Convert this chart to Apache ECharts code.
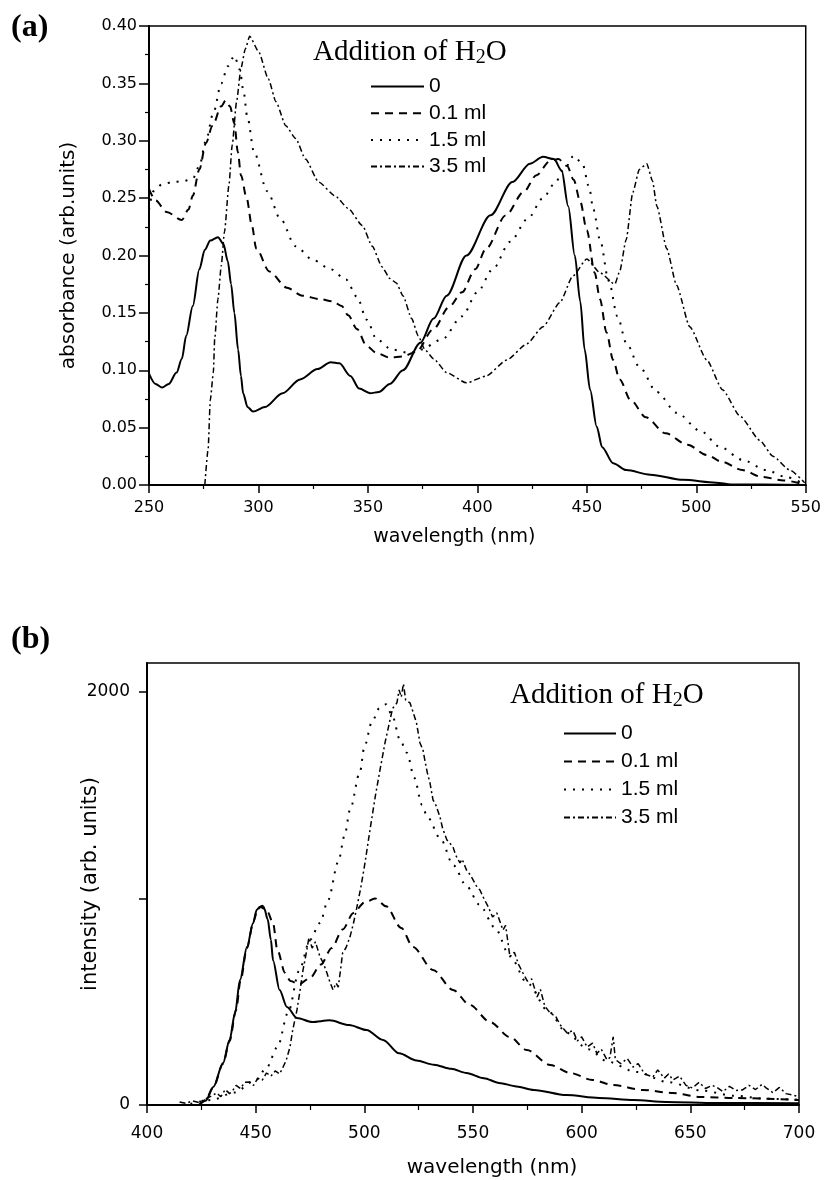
<!DOCTYPE html>
<html>
<head>
<meta charset="utf-8">
<script src="https://cdn.jsdelivr.net/npm/echarts@6/dist/echarts.min.js"></script>
<style>html,body{margin:0;padding:0;background:#fff}#c{width:824px;height:1180px}</style>
</head>
<body>
<div id="c"></div>
<script>
// ---------- DATA ----------
const seriesNames = ['0', '0.1 ml', '1.5 ml', '3.5 ml'];

// (a) absorbance vs wavelength (nm)
const abs0 = [[250,0.097],[253,0.088],[256,0.085],[259,0.088],[262.6,0.098],[265,0.11],[267,0.13],[270,0.156],[273,0.188],[275.5,0.205],[278,0.213],[281.5,0.216],[284,0.21],[286,0.195],[287.5,0.175],[289,0.15],[290.7,0.118],[292,0.095],[293,0.08],[295,0.068],[297.5,0.064],[303,0.068],[311,0.08],[319,0.092],[327,0.101],[333,0.107],[337,0.106],[342,0.095],[346,0.084],[351,0.08],[355,0.081],[360,0.088],[366,0.1],[374,0.124],[380,0.145],[386,0.165],[395,0.2],[406,0.235],[416,0.264],[424,0.28],[430,0.286],[435,0.284],[438.5,0.274],[441.5,0.243],[444.5,0.2],[447,0.16],[449,0.118],[451.5,0.083],[454.5,0.051],[457,0.033],[462,0.019],[468,0.013],[479,0.009],[494,0.0045],[509,0.002],[516,0.0005],[550,0]];
const abs01 = [[250,0.258],[253,0.248],[258,0.238],[265,0.231],[268,0.24],[270,0.252],[273,0.275],[276,0.298],[279,0.313],[283,0.33],[285,0.335],[287,0.33],[289,0.315],[290.6,0.29],[292,0.27],[294.6,0.25],[297,0.226],[299,0.206],[305,0.186],[313,0.172],[320,0.165],[328,0.162],[334,0.16],[338,0.156],[341,0.148],[345,0.136],[349.5,0.121],[354,0.115],[360,0.111],[366,0.112],[372,0.116],[380,0.136],[387,0.155],[393,0.168],[399,0.188],[404,0.206],[413,0.235],[421,0.255],[427,0.27],[433,0.282],[437,0.284],[441,0.278],[444,0.266],[447,0.247],[450,0.222],[453.6,0.185],[456,0.162],[459,0.133],[462,0.109],[465,0.092],[470,0.074],[477,0.059],[486,0.045],[496,0.035],[505,0.026],[512,0.02],[521,0.013],[530,0.007],[540,0.004],[550,0]];
const abs15 = [[250,0.24],[252,0.256],[256,0.262],[261,0.264],[266,0.265],[270,0.267],[273,0.278],[276,0.3],[279.5,0.325],[283,0.35],[286,0.365],[289,0.374],[291.5,0.362],[293,0.345],[295,0.32],[298,0.29],[304,0.256],[310,0.232],[317,0.208],[325,0.196],[333,0.188],[340,0.179],[345,0.164],[349.5,0.144],[354,0.127],[361,0.118],[369,0.115],[374,0.118],[384,0.127],[393,0.147],[400,0.168],[407,0.188],[415,0.212],[423,0.232],[430,0.25],[435,0.262],[440,0.276],[444,0.287],[448,0.28],[451,0.26],[453,0.24],[456,0.214],[460,0.178],[464,0.147],[468,0.124],[474,0.103],[482,0.081],[491,0.063],[502,0.047],[511,0.033],[521,0.022],[532,0.013],[541,0.007],[550,0]];
const abs35 = [[275.5,0],[277,0.031],[278,0.074],[279.4,0.098],[280,0.127],[281.5,0.162],[283,0.191],[284.5,0.221],[286.5,0.261],[288,0.296],[290,0.334],[292,0.363],[294,0.38],[296,0.391],[300,0.378],[304.5,0.354],[308,0.334],[312.5,0.313],[317,0.302],[321.5,0.284],[327.5,0.264],[335,0.252],[341,0.241],[347.5,0.226],[352,0.208],[356.5,0.19],[360,0.18],[363,0.176],[366,0.165],[370,0.145],[373,0.13],[376,0.118],[380,0.11],[386,0.098],[395,0.089],[404,0.095],[413.5,0.109],[422.6,0.123],[430,0.138],[437.7,0.159],[443.6,0.182],[450,0.197],[456,0.185],[462.8,0.175],[465,0.186],[468,0.214],[471,0.255],[474,0.275],[477.4,0.28],[480,0.265],[482,0.243],[486.5,0.206],[491,0.174],[497,0.138],[504.8,0.109],[512,0.083],[520,0.06],[529,0.039],[535,0.025],[542.7,0.013],[549.5,0.002]];

// (b) PL intensity vs wavelength (nm)
const pl0 = [[424,0],[427,20],[430.5,87],[435,203],[438,315],[440.5,445],[442.8,605],[446,765],[448.8,880],[450.5,945],[452,960],[454,950],[455.5,900],[457,800],[458,700],[461,557],[464.4,475],[469,421],[476,402],[484,410],[493,387],[501,363],[508.6,315],[516,250],[524,215],[532,195],[540,175],[547,155],[555,130],[562,107],[570,90],[578,73],[593,48],[608,34],[624,24],[639,15],[662,10],[700,8]];
const pl01 = [[424,0],[427,25],[430.5,85],[435,200],[438,310],[441,460],[443,600],[446,760],[449,890],[451,950],[453,965],[455.5,935],[458,880],[460,750],[463.5,640],[466,600],[470,585],[475,615],[480,680],[485,760],[490,850],[495,930],[500,980],[505,1000],[510,962],[517,857],[522.4,765],[531.6,654],[540.8,557],[548.6,484],[557.8,402],[567,329],[574.8,266],[585.5,194],[594.7,155],[605,121],[614.5,97],[628,73],[642,58],[654.5,39],[670,34],[700,24]];
const pl15 = [[420,5],[430,25],[440,60],[450,120],[455,180],[460,280],[465,450],[470,650],[475,800],[479.6,881],[483.3,992],[488,1177],[491,1308],[493.4,1429],[498,1613],[500,1734],[503.5,1855],[507,1923],[510,1940],[513,1880],[516.4,1768],[519.6,1705],[523,1584],[526.5,1453],[529,1395],[535,1290],[541,1160],[547,1060],[553,970],[560,860],[567,720],[575,590],[585,450],[593,350],[603,270],[612,210],[625,160],[640,110],[655,70],[670,45],[685,30],[700,25]];
const pl35 = [[415,15],[418,8],[421,20],[424,12],[427,30],[430,45],[432,58],[434,40],[436,75],[438,55],[439.6,73],[441,95],[443,80],[445,110],[447.4,111],[449,95],[451,130],[453,120],[455,155],[457,140],[459,165],[461,150],[462,170],[464,215],[465.8,281],[467,360],[469,460],[470.5,560],[471.8,654],[473,720],[474.5,810],[476,760],[477.5,790],[479.6,717],[481,690],[482.8,639],[484,600],[485.6,557],[487,590],[488,571],[489,650],[490,736],[491.5,760],[493.4,814],[495,880],[496.6,959],[498.5,1060],[500.3,1172],[502.6,1332],[505,1492],[507.2,1622],[509.5,1753],[511.8,1864],[513,1920],[515,1947],[516,2010],[517,1975],[518,2040],[519,1960],[521,1947],[522.5,1900],[524,1850],[525.6,1753],[527,1719],[528,1660],[529,1608],[530.2,1560],[531.6,1477],[533,1450],[534.8,1395],[536,1340],[538,1283],[540.8,1250],[542,1210],[544,1172],[545,1190],[547,1138],[549,1110],[551.8,1056],[553.2,1041],[555,1000],[557,960],[559,910],[561,930],[563.8,847],[565,870],[567,717],[569,740],[571,680],[573,639],[575,600],[577,610],[579.5,523],[581,560],[583,480],[585.5,445],[588,430],[590,390],[593.3,349],[596,360],[598,310],[600,330],[602.5,281],[605,300],[607,250],[609,270],[611.7,218],[613,230],[614.5,330],[615.5,220],[618,200],[621,225],[623.6,184],[626,200],[629,150],[632.8,136],[635,170],[638,130],[640,150],[642,121],[645,140],[648,95],[651,82],[654,110],[657,80],[660,95],[662,87],[665,65],[668,90],[671,70],[674,73],[677,95],[680,75],[683,100],[685,82],[688,60],[691,85],[694,55],[697,48],[700,40]];

const absTicks = [0, 0.05, 0.10, 0.15, 0.20, 0.25, 0.30, 0.35, 0.40];
const plYLabels = [0, 2000];
const plYTicks = [0, 1000, 2000];

// ---------- CHART ----------
const chart = echarts.init(document.getElementById('c'), null, {renderer: 'canvas'});
const styles = [
  {type: 'solid', width: 2},
  {type: [8, 6], width: 2},
  {type: [2, 7], width: 2},
  {type: [6, 3, 2, 3], width: 1.5}
];
const tickFont = {fontFamily: 'DejaVu Sans', color: '#000'};
const axisLineStyle = {show: true, lineStyle: {color: '#000', width: 2}};

function mk(name, data, i, axisIdx, smooth) {
  return {
    name: name, type: 'line', data: data, xAxisIndex: axisIdx, yAxisIndex: axisIdx,
    symbol: 'none', smooth: smooth, smoothMonotone: 'x',
    lineStyle: Object.assign({color: '#000'}, styles[i]),
    itemStyle: {color: '#000'}, animation: false, z: 3
  };
}

const legendBase = {
  orient: 'vertical', itemHeight: 14, selectedMode: false,
  itemStyle: {opacity: 0},
  textStyle: {fontFamily: 'Liberation Sans', fontSize: 21, color: '#000', lineHeight: 20}
};

const option = {
  animation: false,
  backgroundColor: '#fff',
  grid: [
    {left: 149, top: 26, width: 657, height: 459, show: true, borderColor: '#000', borderWidth: 1.5, backgroundColor: 'transparent'},
    {left: 147, top: 663, width: 652, height: 442, show: true, borderColor: '#000', borderWidth: 1.5, backgroundColor: 'transparent'}
  ],
  xAxis: [
    {gridIndex: 0, type: 'value', min: 250, max: 550, interval: 50,
     name: 'wavelength (nm)', nameLocation: 'middle', nameGap: 43, nameMoveOverlap: false,
     nameTextStyle: {fontFamily: 'DejaVu Sans', fontSize: 19, color: '#000', padding: [0, 46, 0, 0]},
     axisLine: axisLineStyle,
     axisTick: {show: true, inside: false, length: 8, lineStyle: {color: '#000', width: 1.5}},
     minorTick: {show: true, splitNumber: 2, length: 4, lineStyle: {color: '#000', width: 1.2}},
     splitLine: {show: false},
     axisLabel: Object.assign({fontSize: 16, margin: 15}, tickFont)},
    {gridIndex: 1, type: 'value', min: 400, max: 700, interval: 50,
     name: 'wavelength (nm)', nameLocation: 'middle', nameGap: 53, nameMoveOverlap: false,
     nameTextStyle: {fontFamily: 'DejaVu Sans', fontSize: 20, color: '#000', padding: [0, 0, 0, 38]},
     axisLine: axisLineStyle,
     axisTick: {show: true, inside: false, length: 8, lineStyle: {color: '#000', width: 1.5}},
     minorTick: {show: true, splitNumber: 2, length: 5, lineStyle: {color: '#000', width: 1.2}},
     splitLine: {show: false},
     axisLabel: Object.assign({fontSize: 17, margin: 20}, tickFont)}
  ],
  yAxis: [
    {gridIndex: 0, type: 'value', min: 0, max: 0.4, interval: 0.05,
     name: 'absorbance (arb.units)', nameLocation: 'middle', nameGap: 70, nameMoveOverlap: false,
     nameTextStyle: {fontFamily: 'DejaVu Sans', fontSize: 20, color: '#000'},
     axisLine: axisLineStyle,
     axisTick: {show: true, inside: false, length: 10, lineStyle: {color: '#000', width: 1.5}},
     minorTick: {show: true, splitNumber: 2, length: 4, lineStyle: {color: '#000', width: 1.2}},
     splitLine: {show: false},
     axisLabel: Object.assign({fontSize: 16, margin: 12, formatter: v => v.toFixed(2)}, tickFont)},
    {gridIndex: 1, type: 'value', min: 0, max: 2140,
     name: 'intensity (arb. units)', nameLocation: 'middle', nameGap: 46, nameMoveOverlap: false,
     nameTextStyle: {fontFamily: 'DejaVu Sans', fontSize: 21, color: '#000'},
     axisLine: axisLineStyle,
     axisTick: {show: true, inside: false, length: 8, customValues: plYTicks, lineStyle: {color: '#000', width: 1.5}},
     splitLine: {show: false},
     axisLabel: Object.assign({fontSize: 17, margin: 17, customValues: plYLabels, formatter: v => String(v)}, tickFont)}
  ],
  legend: [
    Object.assign({data: seriesNames, left: 365, top: 71, itemWidth: 53, itemGap: 5.7}, legendBase),
    Object.assign({data: seriesNames, left: 558, top: 718, itemWidth: 52, itemGap: 7}, legendBase)
  ],
  graphic: [
    {type: 'text', left: 11, top: 12, style: {text: '(a)', font: 'bold 32px "Liberation Serif"', fill: '#000'}},
    {type: 'text', left: 11, top: 624, style: {text: '(b)', font: 'bold 32px "Liberation Serif"', fill: '#000'}},
    {type: 'text', x: 313, y: 38, style: {
      text: '{a|Addition of H}{s|2}{a|O}', align: 'left', verticalAlign: 'top',
      rich: {a: {fontFamily: 'Liberation Serif', fontSize: 29, lineHeight: 30, verticalAlign: 'top', fill: '#000'},
             s: {fontFamily: 'Liberation Serif', fontSize: 20, lineHeight: 20, verticalAlign: 'bottom', fill: '#000'}}}},
    {type: 'text', x: 510, y: 681, style: {
      text: '{a|Addition of H}{s|2}{a|O}', align: 'left', verticalAlign: 'top',
      rich: {a: {fontFamily: 'Liberation Serif', fontSize: 29, lineHeight: 30, verticalAlign: 'top', fill: '#000'},
             s: {fontFamily: 'Liberation Serif', fontSize: 20, lineHeight: 20, verticalAlign: 'bottom', fill: '#000'}}}}
  ],
  series: [
    mk(seriesNames[0], abs0, 0, 0, 0.3),
    mk(seriesNames[1], abs01, 1, 0, 0.3),
    mk(seriesNames[2], abs15, 2, 0, 0.3),
    mk(seriesNames[3], abs35, 3, 0, 0.2),
    mk(seriesNames[0], pl0, 0, 1, 0.3),
    mk(seriesNames[1], pl01, 1, 1, 0.3),
    mk(seriesNames[2], pl15, 2, 1, 0.3),
    mk(seriesNames[3], pl35, 3, 1, false)
  ]
};
chart.setOption(option);
</script>
</body>
</html>
